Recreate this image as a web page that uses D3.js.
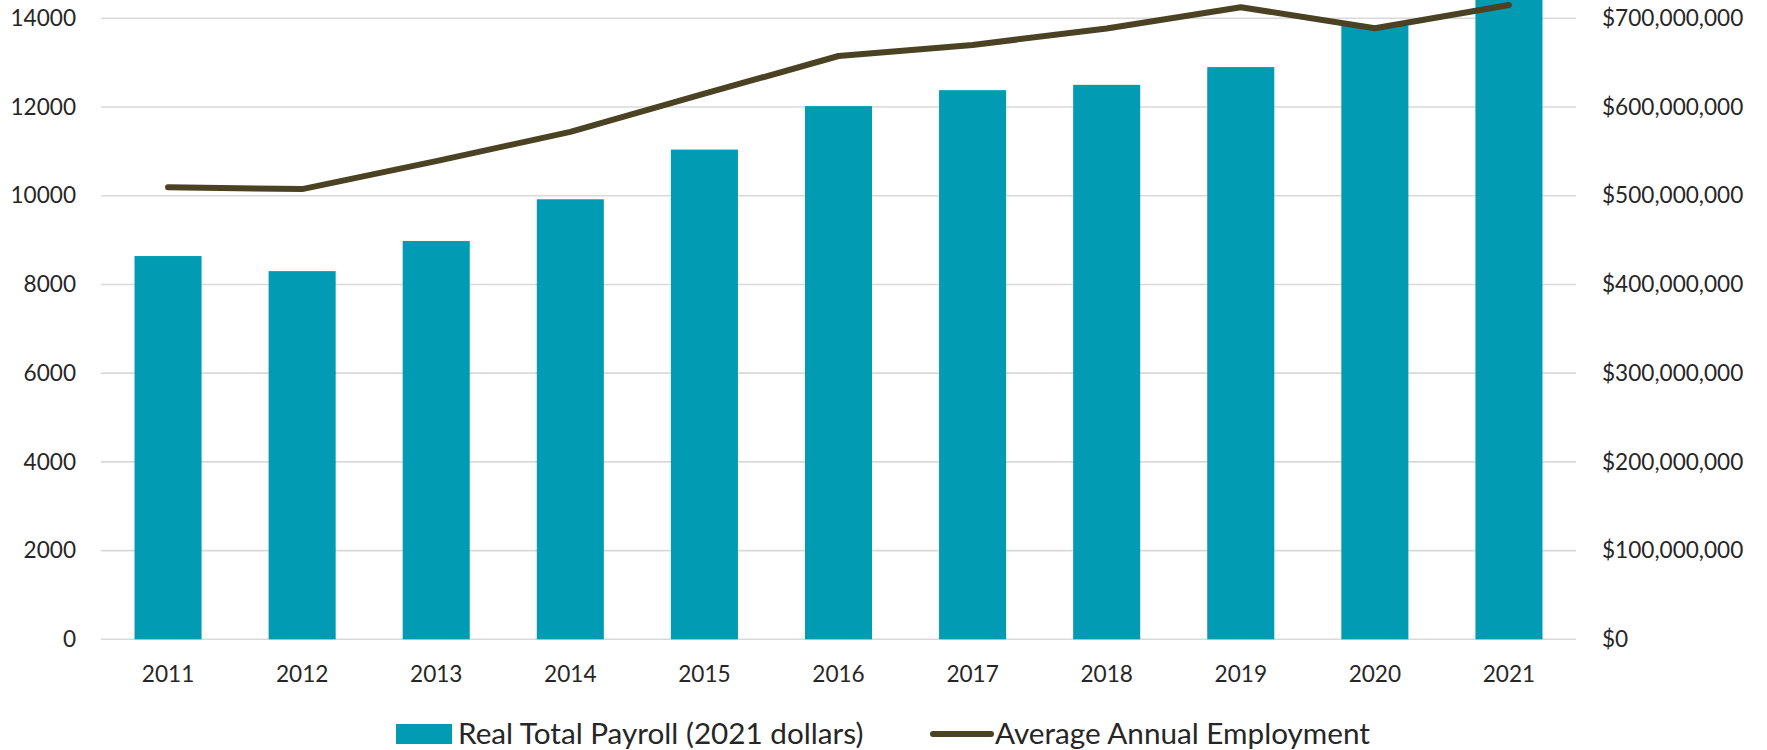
<!DOCTYPE html>
<html>
<head>
<meta charset="utf-8">
<script src="https://cdn.jsdelivr.net/npm/d3@7"></script>
<style>
  body { margin: 0; background: #fff; }
  svg { display: block; font-family: Lato, "Open Sans", sans-serif; }
  .tick text { fill: #262626; }
</style>
</head>
<body>
<div id="chart"></div>
<script>
// Data
const years = ["2011", "2012", "2013", "2014", "2015", "2016", "2017", "2018", "2019", "2020", "2021"];
const payroll = [432e6, 415e6, 449e6, 496e6, 552e6, 601e6, 619e6, 625e6, 645e6, 692e6, 740e6];
const employment = [10190, 10150, 10780, 11440, 12300, 13150, 13400, 13770, 14250, 13775, 14300];
const leftTicks = [0, 2000, 4000, 6000, 8000, 10000, 12000, 14000];
const rightTicks = [0, 100e6, 200e6, 300e6, 400e6, 500e6, 600e6, 700e6];

const barColor = "#019bb3";
const lineColor = "#4b4123";

const W = 1767, H = 750;
const plot = { left: 101, right: 1576, top: 18.3, bottom: 639.3 };

const svg = d3.select("#chart")
    .append("svg")
    .attr("width", W)
    .attr("height", H);

// Scales
const x = d3.scaleBand()
    .domain(years)
    .range([plot.left, plot.right])
    .paddingInner(0.5)
    .paddingOuter(0.25);
const yLeft = d3.scaleLinear().domain([0, 14000]).range([plot.bottom, plot.top]);
const yRight = d3.scaleLinear().domain([0, 700e6]).range([plot.bottom, plot.top]);

// Gridlines
svg.append("g")
    .selectAll("line")
    .data(leftTicks)
    .join("line")
    .attr("x1", plot.left)
    .attr("x2", plot.right)
    .attr("y1", d => yLeft(d))
    .attr("y2", d => yLeft(d))
    .attr("stroke", "#d9d9d9")
    .attr("stroke-width", 1.6);

// Bars (right axis)
svg.append("g")
    .selectAll("rect")
    .data(payroll)
    .join("rect")
    .attr("x", (d, i) => x(years[i]))
    .attr("width", x.bandwidth())
    .attr("y", d => yRight(d))
    .attr("height", d => yRight(0) - yRight(d))
    .attr("fill", barColor);

// Line (left axis)
const line = d3.line()
    .x((d, i) => x(years[i]) + x.bandwidth() / 2)
    .y(d => yLeft(d));

svg.append("path")
    .datum(employment)
    .attr("fill", "none")
    .attr("stroke", lineColor)
    .attr("stroke-width", 6)
    .attr("stroke-linejoin", "round")
    .attr("stroke-linecap", "round")
    .attr("d", line);

// Axes
const leftAxis = svg.append("g")
    .attr("transform", `translate(${plot.left},0)`)
    .call(d3.axisLeft(yLeft).tickValues(leftTicks).tickFormat(d3.format("d")).tickSize(0).tickPadding(25));

const rightAxis = svg.append("g")
    .attr("transform", `translate(${plot.right},0)`)
    .call(d3.axisRight(yRight).tickValues(rightTicks).tickFormat(d => "$" + d3.format(",")(d)).tickSize(0).tickPadding(26));

const bottomAxis = svg.append("g")
    .attr("transform", `translate(0,${plot.bottom})`)
    .call(d3.axisBottom(x).tickSize(0).tickPadding(27));

[leftAxis, rightAxis, bottomAxis].forEach(g => {
    g.select(".domain").remove();
    g.selectAll("text").attr("font-size", 22.6).attr("font-family", "Lato, sans-serif");
});

// Legend
const legend = svg.append("g");
legend.append("rect")
    .attr("x", 396).attr("y", 724)
    .attr("width", 56).attr("height", 20)
    .attr("fill", barColor);
legend.append("text")
    .attr("x", 458).attr("y", 744)
    .attr("font-size", 29.7)
    .attr("fill", "#262626")
    .text("Real Total Payroll (2021 dollars)");

legend.append("line")
    .attr("x1", 933).attr("x2", 991)
    .attr("y1", 734).attr("y2", 734)
    .attr("stroke", lineColor)
    .attr("stroke-width", 6)
    .attr("stroke-linecap", "round");
legend.append("text")
    .attr("x", 995).attr("y", 744)
    .attr("font-size", 29.7)
    .attr("fill", "#262626")
    .text("Average Annual Employment");
</script>
</body>
</html>
